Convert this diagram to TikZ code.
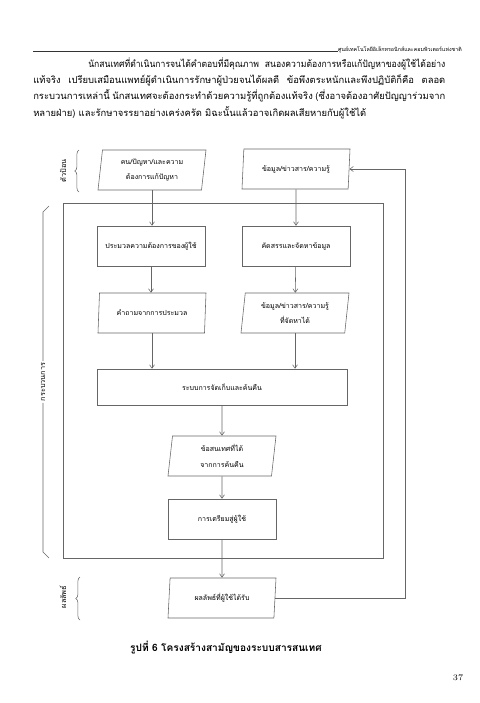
\documentclass[tikz,border=0pt]{standalone}
\usepackage{graphicx}
\usepackage{fontspec}
\newfontfamily\thaifont[Script=Thai]{Loma}
\usetikzlibrary{arrows.meta, calc, shapes.geometric, decorations.pathreplacing}

\begin{document}
\begin{tikzpicture}[x=0.25mm, y=-0.25mm,
            line/.style={draw=black!60, line width=0.4pt},
            box/.style={line, minimum width=27mm, minimum height=10mm, align=center, inner sep=1pt, font=\thaifont\fontsize{5}{11}\selectfont},
            iobox/.style={box, trapezium, trapezium left angle=80, trapezium right angle=100, trapezium stretches body},
            link/.style={line, -{Straight Barb[length=2.5pt, width=3.5pt]}},
            side/.style={rotate=90, inner sep=1pt, font=\thaifont\fontsize{5.2}{7}\selectfont},
            para/.style={anchor=base west, inner sep=0pt, font=\thaifont\fontsize{6.7}{9}\selectfont}]
            \useasboundingbox (0, 0) rectangle (480, 703);
            \fill[white] (0, 0) rectangle (480, 703);

            \node[anchor=base east, inner sep=0pt, font=\thaifont\fontsize{3.8}{5}\selectfont] (head) at (462, 51) {ศูนย์เทคโนโลยีอิเล็กทรอนิกส์และคอมพิวเตอร์แห่งชาติ};
            \draw[line, black!80] (33, 51) -- (head.base west);

            \node[para] (l1) at (88, 67) {\resizebox{89.25mm}{\height}{นักสนเทศที่ดำเนินการจนได้คำตอบที่มีคุณภาพ\ \ สนองความต้องการหรือแก้ปัญหาของผู้ใช้ได้อย่าง}};
            \node[para] (l2) at (33, 83) {\makebox[103mm][s]{แท้จริง เปรียบเสมือนแพทย์ผู้ดำเนินการรักษาผู้ป่วยจนได้ผลดี ข้อพึงตระหนักและพึงปฏิบัติก็คือ ตลอด}};
            \node[para] (l3) at (33, 99) {\makebox[103mm][s]{กระบวนการเหล่านี้ นักสนเทศจะต้องกระทำด้วยความรู้ที่ถูกต้องแท้จริง (ซึ่งอาจต้องอาศัยปัญญาร่วมจาก}};
            \node[para] (l4) at (33, 116) {หลายฝ่าย) และรักษาจรรยาอย่างเคร่งครัด มิฉะนั้นแล้วอาจเกิดผลเสียหายกับผู้ใช้ได้};

            \node[iobox] (need) at (152, 170) {คน/ปัญหา/และความ\\ต้องการแก้ปัญหา};
            \node[iobox] (info) at (296, 169) {ข้อมูล/ข่าวสาร/ความรู้};
            \node[box] (assess) at (151, 246) {ประมวลความต้องการของผู้ใช้};
            \node[box] (select) at (296, 246) {คัดสรรและจัดหาข้อมูล};
            \node[iobox] (query) at (152, 313) {คำถามจากการประมวล};
            \node[iobox] (found) at (295, 313) {ข้อมูล/ข่าวสาร/ความรู้\\ที่จัดหาได้};
            \node[box, minimum width=62.5mm, minimum height=9mm] (store) at (222, 387) {ระบบการจัดเก็บและค้นคืน};
            \node[iobox] (retr) at (222, 456) {ข้อสนเทศที่ได้\\จากการค้นคืน};
            \node[box] (prep) at (222, 519) {การเตรียมสู่ผู้ใช้};
            \node[iobox] (result) at (222, 598) {ผลลัพธ์ที่ผู้ใช้ได้รับ};

            \draw[line] (63, 203) rectangle (383, 558);

            \draw[link] (need.south) -- (need.south |- assess.north);
            \draw[link] (info) -- (select);
            \draw[link] (assess.south) -- (assess.south |- query.north);
            \draw[link] (select) -- (found);
            \draw[link] (query.south) -- (query.south |- store.north);
            \draw[link] (found.south) -- (found.south |- store.north);
            \draw[link] (store) -- (retr);
            \draw[link] (retr) -- (prep);
            \draw[link] (prep) -- (result);
            \coordinate (loop) at (405, 0);
            \draw[link] (result.east) -| (loop |- info.east) -- (info.east);

            \node[side] (input) at (63, 171) {ตัวป้อน};
            \draw[line, decorate, decoration={brace, amplitude=3pt}] (79, 192) -- (79, 150);

            \node[side] (proc) at (43, 382) {กระบวนการ};
            \coordinate (procT) at (43, 212);
            \coordinate (procB) at (43, 552);
            \draw[line] (proc.east) -- (procT) -- ++(6, -6);
            \draw[line] (proc.west) -- (procB) -- ++(6, 6);

            \node[side] (output) at (63, 597) {ผลลัพธ์};
            \draw[line, decorate, decoration={brace, amplitude=3pt}] (80, 620) -- (80, 577);

            \node[inner sep=0pt, font=\thaifont\bfseries\fontsize{7.2}{9}\selectfont] (caption) at (226, 648) {รูปที่ 6 โครงสร้างสามัญของระบบสารสนเทศ};
            \node[inner sep=0pt, font=\fontsize{6}{7}\selectfont] (page) at (458, 678) {37};
        \end{tikzpicture}
\end{document}
